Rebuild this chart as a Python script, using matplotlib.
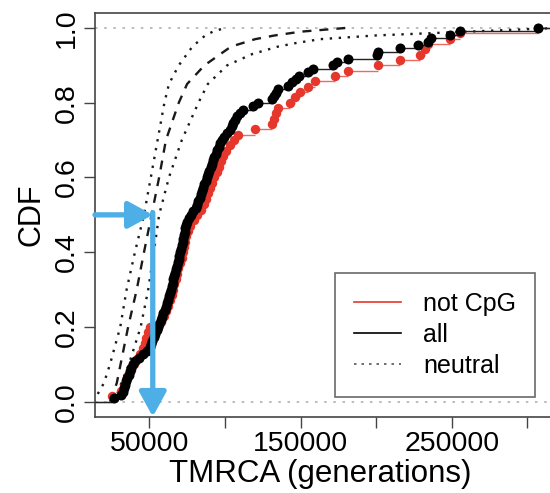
import matplotlib
matplotlib.use("Agg")
import matplotlib.pyplot as plt
import numpy as np

plt.rcParams['font.family'] = ['Liberation Sans', 'DejaVu Sans']

# ---- data ----
all_tmrca = [26500, 31500, 32500, 33200, 34000, 34800, 35500, 36300, 37200, 38200,
             39200, 40800, 43500, 46000, 48800, 50200, 51200, 52100, 53100, 54000,
             54900, 55800, 56700, 57500, 58400, 59300, 60100, 61000, 61800, 62700,
             63200, 63800, 64300, 64900, 65400, 66000, 66500, 67100, 67700, 68300,
             68800, 69400, 69900, 70500, 71000, 71600, 72100, 72500, 73000, 73500,
             73900, 74400, 75200, 76500, 77900, 79200, 80600, 81700, 82500, 83300,
             84100, 84900, 85700, 86500, 87300, 88100, 88900, 89700, 90500, 91300,
             92100, 93000, 94000, 94900, 95900, 96800, 97900, 99500, 101300, 103200,
             104400, 105500, 106600, 107900, 110000, 112200, 118800, 122100, 131000, 132500,
             133500, 135300, 141900, 144500, 147000, 149000, 155200, 158500, 171700, 173900,
             181600, 200400, 201500, 215800, 227900, 234000, 236000, 248900, 255500, 307300]

notcpg_tmrca = [25100, 31000, 33000, 34300, 35600, 38000, 39800, 41800, 44000, 45800,
                47000, 48000, 49000, 50500, 57800, 59600, 61000, 62500, 63800, 64800,
                65700, 66600, 67500, 68300, 69300, 70500, 71600, 72400, 73100, 73800,
                74600, 75500, 77000, 79500, 81800, 84200, 86000, 87400, 88800, 90200,
                91700, 92900, 94500, 96000, 97600, 99000, 101000, 103600, 106000, 108500,
                119900, 131000, 132500, 133600, 135300, 143000, 146500, 149500, 155200, 159600,
                172800, 181600, 201500, 215800, 229000, 232300, 234500, 248900, 255500, 307300]

neutral_lo_y = [0.0, 0.05, 0.1, 0.2, 0.3, 0.4, 0.5, 0.6, 0.7, 0.8, 0.85, 0.9, 0.95, 0.98, 0.99, 1.0]
neutral_lo_x = [13000, 20000, 24000, 30800, 35000, 40500, 46500, 51000, 55500, 60000,
                63000, 69500, 78500, 87000, 92000, 100000]

neutral_mid_y = [0.0, 0.05, 0.1, 0.2, 0.3, 0.4, 0.5, 0.6, 0.7, 0.8, 0.85, 0.9, 0.95, 0.97, 0.98, 0.99, 1.0]
neutral_mid_x = [24000, 28500, 31000, 36000, 41700, 46500, 51500, 56500, 61000, 69500,
                 75000, 86500, 104000, 120000, 133000, 150000, 180000]

neutral_hi_y = [0.0, 0.05, 0.1, 0.2, 0.3, 0.4, 0.5, 0.6, 0.7, 0.8, 0.85, 0.9, 0.93, 0.95,
                0.96, 0.97, 0.98, 0.99, 1.0]
neutral_hi_x = [27000, 31500, 36500, 44300, 49300, 53000, 56500, 63000, 71500, 82500,
                88700, 101500, 118000, 135000, 147500, 163000, 200000, 260000, 320000]

arrow_x = 52300
arrow_y = 0.5

x_ticks = [50000, 100000, 150000, 200000, 250000, 300000]
x_ticklabels = ["50000", "", "150000", "", "250000", ""]
y_ticks = [0.0, 0.2, 0.4, 0.6, 0.8, 1.0]
y_ticklabels = ["0.0", "0.2", "0.4", "0.6", "0.8", "1.0"]

XMIN, XMAX = 14100, 318300

fig = plt.figure(figsize=(5.5, 4.93), dpi=100)
ax = fig.add_axes([95 / 550, 1 - 416.7 / 493, (555 - 95) / 550, (416.7 - 13) / 493])
ax.set_xlim(XMIN, XMAX)
ax.set_ylim(-0.04, 1.04)

# gray reference lines
for h in (0.0, 1.0):
    ax.axhline(h, color='#b0b0b0', lw=1.2, ls=(0, (1.5, 4)), zorder=1)

# neutral curves
ax.plot(neutral_lo_x, neutral_lo_y, color='#1a1a1a', lw=1.7, ls=(0, (1, 2.8)), zorder=2)
ax.plot(neutral_hi_x, neutral_hi_y, color='#1a1a1a', lw=1.7, ls=(0, (1, 2.8)), zorder=2)
ax.plot(neutral_mid_x, neutral_mid_y, color='#1a1a1a', lw=1.7, ls=(0, (3.8, 3.4)), zorder=2)


def draw_ecdf(vals, color, lcolor, ms, z):
    xs = np.sort(np.asarray(vals, dtype=float))
    n = len(xs)
    ys = np.arange(1, n + 1) / n
    xl = np.concatenate([[XMIN - 10000], xs])
    xr = np.concatenate([xs, [XMAX + 10000]])
    yy = np.concatenate([[0.0], ys])
    ax.hlines(yy, xl, xr, color=lcolor, lw=1.0, zorder=z)
    ax.plot(xs, ys, 'o', color=color, ms=ms, mec='none', zorder=z + 0.5)


draw_ecdf(notcpg_tmrca, '#e5372b', '#ee6a60', 6.8, 3)
draw_ecdf(all_tmrca, 'black', '#222222', 7.2, 4)

# blue arrows
blue = '#4eaee6'
style = '-|>,head_length=0.62,head_width=0.34'
ax.annotate('', xy=(arrow_x, arrow_y), xytext=(XMIN, arrow_y),
            arrowprops=dict(arrowstyle=style, lw=3.8,
                            color=blue, shrinkA=0, shrinkB=0, mutation_scale=24),
            zorder=6, annotation_clip=False)
ax.annotate('', xy=(arrow_x, -0.04), xytext=(arrow_x, arrow_y + 0.006),
            arrowprops=dict(arrowstyle=style, lw=3.8,
                            color=blue, shrinkA=0, shrinkB=0, mutation_scale=24),
            zorder=6, annotation_clip=False)

# axes styling
for s in ax.spines.values():
    s.set_color('#444444')
    s.set_linewidth(1.2)
ax.set_xticks(x_ticks)
ax.set_xticklabels(x_ticklabels)
ax.set_yticks(y_ticks)
ax.set_yticklabels(y_ticklabels, rotation=90, va='center')
ax.tick_params(axis='both', length=8, width=1, color='#444444', labelsize=20.5)
ax.tick_params(axis='x', pad=2)
ax.tick_params(axis='y', pad=3)

ax.set_xlabel('TMRCA (generations)', fontsize=22.5)
ax.set_ylabel('CDF', fontsize=22)
ax.xaxis.set_label_coords((320 - 95) / 460, -0.105)
ax.yaxis.set_label_coords(-0.105, 0.5)

# legend
from matplotlib.lines import Line2D
handles = [Line2D([], [], color='#e5372b', lw=1.2),
           Line2D([], [], color='black', lw=1.2),
           Line2D([], [], color='#555555', lw=1.2, ls=(0, (1.5, 3)))]
leg = ax.legend(handles, ['not CpG', 'all', 'neutral'], loc='upper left',
                bbox_to_anchor=(0.522, 0.355), borderaxespad=0, fontsize=18,
                frameon=True, fancybox=False, handlelength=1.9, handletextpad=0.88,
                borderpad=0.75, labelspacing=0.28)
leg.get_frame().set_edgecolor('#444444')
leg.get_frame().set_linewidth(1.2)

fig.savefig('out.png', dpi=100)
